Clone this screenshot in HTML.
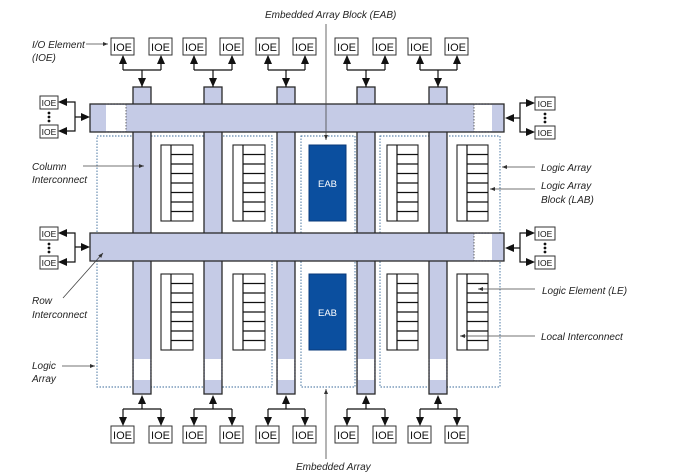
<!DOCTYPE html>
<html><head><meta charset="utf-8"><style>
html,body{margin:0;padding:0;background:#fff;}
svg{display:block}
.b{fill:#c5cbe6;stroke:#2a2a2a;stroke-width:1.3}
.io{fill:#fff;stroke:#333;stroke-width:1}
.it{font-family:"Liberation Sans",sans-serif;font-size:11px;fill:#111;text-anchor:middle}
.is{font-family:"Liberation Sans",sans-serif;font-size:8.5px;fill:#111;text-anchor:middle}
.lb{font-family:"Liberation Sans",sans-serif;font-size:10px;font-style:italic;fill:#222}
.ln{stroke:#111;stroke-width:1.2;fill:none}
.thin{stroke:#444;stroke-width:0.8;fill:none}
.dash{fill:none;stroke:#3a6a9a;stroke-width:0.9;stroke-dasharray:1.5,1.5}
.lab{fill:#fff;stroke:#222;stroke-width:1.1}
</style></head><body>
<svg width="687" height="476" viewBox="0 0 687 476" xmlns="http://www.w3.org/2000/svg">
<defs>
<marker id="a" markerWidth="8" markerHeight="8" refX="7" refY="4" orient="auto" markerUnits="userSpaceOnUse"><path d="M0,0L8,4L0,8z" fill="#111"/></marker>
<marker id="s" markerWidth="5" markerHeight="4" refX="5" refY="2" orient="auto" markerUnits="userSpaceOnUse"><path d="M0,0L5,2L0,4z" fill="#333"/></marker>
</defs>

<!-- dashed logic array boxes -->
<rect class="dash" x="97" y="136" width="175" height="251"/>
<rect class="dash" x="301" y="136" width="54" height="251"/>
<rect class="dash" x="380" y="136" width="120" height="251"/>

<!-- columns -->
<g>
<rect class="b" x="133" y="87" width="18" height="307"/>
<rect class="b" x="204" y="87" width="18" height="307"/>
<rect class="b" x="277" y="87" width="18" height="307"/>
<rect class="b" x="357" y="87" width="18" height="307"/>
<rect class="b" x="429" y="87" width="18" height="307"/>
</g>
<!-- white gaps at bottom of columns -->
<g fill="#fff">
<rect x="134" y="359" width="16" height="21"/><rect x="205" y="359" width="16" height="21"/><rect x="278" y="359" width="16" height="21"/><rect x="358" y="359" width="16" height="21"/><rect x="430" y="359" width="16" height="21"/>
</g>
<g class="thin" stroke-dasharray="1.5,1.5">
<path d="M133,359V380M151,359V380M204,359V380M222,359V380M277,359V380M295,359V380M357,359V380M375,359V380M429,359V380M447,359V380"/>
</g>

<!-- row bars -->
<rect class="b" x="90" y="104" width="414" height="28"/>
<rect class="b" x="90" y="233" width="414" height="28"/>
<g fill="#fff">
<rect x="106" y="105" width="20" height="26"/><rect x="474" y="105" width="18" height="26"/>
<rect x="474" y="234" width="18" height="26"/>
</g>
<g class="thin" stroke-dasharray="1.5,1.5">
<path d="M106,104H126M106,132H126M126,104V132M474,104H492M474,132H492M474,104V132M474,233H492M474,261H492M474,233V261"/>
</g>
<!-- column segments over row bars -->
<g fill="#c5cbe6"></g>

<!-- LABs -->
<g>
<rect class="lab" x="161" y="145" width="32" height="76"/><path class="ln" d="M171,145V221M171,154.5H193M171,164H193M171,173.5H193M171,183H193M171,192.5H193M171,202H193M171,211.5H193"/>
<rect class="lab" x="233" y="145" width="32" height="76"/><path class="ln" d="M243,145V221M243,154.5H265M243,164H265M243,173.5H265M243,183H265M243,192.5H265M243,202H265M243,211.5H265"/>
<rect class="lab" x="387" y="145" width="31" height="76"/><path class="ln" d="M397,145V221M397,154.5H418M397,164H418M397,173.5H418M397,183H418M397,192.5H418M397,202H418M397,211.5H418"/>
<rect class="lab" x="457" y="145" width="31" height="76"/><path class="ln" d="M467,145V221M467,154.5H488M467,164H488M467,173.5H488M467,183H488M467,192.5H488M467,202H488M467,211.5H488"/>
<rect class="lab" x="161" y="274" width="32" height="76"/><path class="ln" d="M171,274V350M171,283.5H193M171,293H193M171,302.5H193M171,312H193M171,321.5H193M171,331H193M171,340.5H193"/>
<rect class="lab" x="233" y="274" width="32" height="76"/><path class="ln" d="M243,274V350M243,283.5H265M243,293H265M243,302.5H265M243,312H265M243,321.5H265M243,331H265M243,340.5H265"/>
<rect class="lab" x="387" y="274" width="31" height="76"/><path class="ln" d="M397,274V350M397,283.5H418M397,293H418M397,302.5H418M397,312H418M397,321.5H418M397,331H418M397,340.5H418"/>
<rect class="lab" x="457" y="274" width="31" height="76"/><path class="ln" d="M467,274V350M467,283.5H488M467,293H488M467,302.5H488M467,312H488M467,321.5H488M467,331H488M467,340.5H488"/>
</g>

<!-- EABs -->
<rect x="309" y="145" width="37" height="76" fill="#0b4f9f" stroke="#0a3a78"/>
<rect x="309" y="274" width="37" height="76" fill="#0b4f9f" stroke="#0a3a78"/>
<text x="327.5" y="187" font-family="Liberation Sans,sans-serif" font-size="9.5" fill="#fff" text-anchor="middle">EAB</text>
<text x="327.5" y="316" font-family="Liberation Sans,sans-serif" font-size="9.5" fill="#fff" text-anchor="middle">EAB</text>

<!-- top IOEs -->
<g>
<rect class="io" x="111" y="38" width="23" height="17"/><text class="it" x="122.5" y="51">IOE</text>
<rect class="io" x="149" y="38" width="23" height="17"/><text class="it" x="160.5" y="51">IOE</text>
<rect class="io" x="183" y="38" width="23" height="17"/><text class="it" x="194.5" y="51">IOE</text>
<rect class="io" x="220" y="38" width="23" height="17"/><text class="it" x="231.5" y="51">IOE</text>
<rect class="io" x="256" y="38" width="23" height="17"/><text class="it" x="267.5" y="51">IOE</text>
<rect class="io" x="293" y="38" width="23" height="17"/><text class="it" x="304.5" y="51">IOE</text>
<rect class="io" x="335" y="38" width="23" height="17"/><text class="it" x="346.5" y="51">IOE</text>
<rect class="io" x="373" y="38" width="23" height="17"/><text class="it" x="384.5" y="51">IOE</text>
<rect class="io" x="408" y="38" width="23" height="17"/><text class="it" x="419.5" y="51">IOE</text>
<rect class="io" x="445" y="38" width="23" height="17"/><text class="it" x="456.5" y="51">IOE</text>
</g>
<g class="ln">
<path d="M123,70V56M161,70V56M123,70H161M142,70V87" />
<path d="M194,70V56M232,70V56M194,70H232M213,70V87" />
<path d="M268,70V56M305,70V56M268,70H305M286,70V87" />
<path d="M347,70V56M385,70V56M347,70H385M366,70V87" />
<path d="M420,70V56M457,70V56M420,70H457M438,70V87" />
</g>
<g fill="#111">
<path d="M123,55l-4,9h8zM161,55l-4,9h8zM194,55l-4,9h8zM232,55l-4,9h8zM268,55l-4,9h8zM305,55l-4,9h8zM347,55l-4,9h8zM385,55l-4,9h8zM420,55l-4,9h8zM457,55l-4,9h8z"/>
<path d="M142,87l-4,-9h8zM213,87l-4,-9h8zM286,87l-4,-9h8zM366,87l-4,-9h8zM438,87l-4,-9h8z"/>
</g>

<!-- bottom IOEs -->
<g>
<rect class="io" x="111" y="426" width="23" height="17"/><text class="it" x="122.5" y="439">IOE</text>
<rect class="io" x="149" y="426" width="23" height="17"/><text class="it" x="160.5" y="439">IOE</text>
<rect class="io" x="183" y="426" width="23" height="17"/><text class="it" x="194.5" y="439">IOE</text>
<rect class="io" x="220" y="426" width="23" height="17"/><text class="it" x="231.5" y="439">IOE</text>
<rect class="io" x="256" y="426" width="23" height="17"/><text class="it" x="267.5" y="439">IOE</text>
<rect class="io" x="293" y="426" width="23" height="17"/><text class="it" x="304.5" y="439">IOE</text>
<rect class="io" x="335" y="426" width="23" height="17"/><text class="it" x="346.5" y="439">IOE</text>
<rect class="io" x="373" y="426" width="23" height="17"/><text class="it" x="384.5" y="439">IOE</text>
<rect class="io" x="408" y="426" width="23" height="17"/><text class="it" x="419.5" y="439">IOE</text>
<rect class="io" x="445" y="426" width="23" height="17"/><text class="it" x="456.5" y="439">IOE</text>
</g>
<g class="ln">
<path d="M123,409V420M161,409V420M123,409H161M142,409V402" />
<path d="M194,409V420M232,409V420M194,409H232M213,409V402" />
<path d="M268,409V420M305,409V420M268,409H305M286,409V402" />
<path d="M347,409V420M385,409V420M347,409H385M366,409V402" />
<path d="M420,409V420M457,409V420M420,409H457M438,409V402" />
</g>
<g fill="#111">
<path d="M123,426l-4,-9h8zM161,426l-4,-9h8zM194,426l-4,-9h8zM232,426l-4,-9h8zM268,426l-4,-9h8zM305,426l-4,-9h8zM347,426l-4,-9h8zM385,426l-4,-9h8zM420,426l-4,-9h8zM457,426l-4,-9h8z"/>
<path d="M142,395l-4,9h8zM213,395l-4,9h8zM286,395l-4,9h8zM366,395l-4,9h8zM438,395l-4,9h8z"/>
</g>

<!-- left side IOEs -->
<g>
<rect class="io" x="40" y="96" width="18" height="13"/><text class="is" x="49" y="106">IOE</text>
<rect class="io" x="40" y="125" width="18" height="13"/><text class="is" x="49" y="135">IOE</text>
<rect class="io" x="40" y="227" width="18" height="13"/><text class="is" x="49" y="237">IOE</text>
<rect class="io" x="40" y="256" width="18" height="13"/><text class="is" x="49" y="266">IOE</text>
</g>
<g class="ln"><path d="M66,102H75V131H66M75,117H82M66,233H75V262H66M75,247H82"/></g>
<g fill="#111">
<path d="M58,102l9,-4v8zM58,131l9,-4v8zM90,117l-9,-4v8zM58,233l9,-4v8zM58,262l9,-4v8zM90,247l-9,-4v8z"/>
<circle cx="49" cy="113" r="1.4"/><circle cx="49" cy="117" r="1.4"/><circle cx="49" cy="121" r="1.4"/>
<circle cx="49" cy="244" r="1.4"/><circle cx="49" cy="248" r="1.4"/><circle cx="49" cy="252" r="1.4"/>
</g>

<!-- right side IOEs -->
<g>
<rect class="io" x="535" y="97" width="20" height="13"/><text class="is" x="545" y="107">IOE</text>
<rect class="io" x="535" y="126" width="20" height="13"/><text class="is" x="545" y="136">IOE</text>
<rect class="io" x="535" y="227" width="20" height="13"/><text class="is" x="545" y="237">IOE</text>
<rect class="io" x="535" y="256" width="20" height="13"/><text class="is" x="545" y="266">IOE</text>
</g>
<g class="ln"><path d="M527,103H520V132H527M520,118H513M527,233H520V262H527M520,248H513"/></g>
<g fill="#111">
<path d="M535,103l-9,-4v8zM535,132l-9,-4v8zM505,118l9,-4v8zM535,233l-9,-4v8zM535,262l-9,-4v8zM505,248l9,-4v8z"/>
<circle cx="545" cy="114" r="1.4"/><circle cx="545" cy="118" r="1.4"/><circle cx="545" cy="122" r="1.4"/>
<circle cx="545" cy="244" r="1.4"/><circle cx="545" cy="248" r="1.4"/><circle cx="545" cy="252" r="1.4"/>
</g>

<!-- labels -->
<text class="lb" x="265" y="18">Embedded Array Block (EAB)</text>
<path class="thin" d="M326,24V140" marker-end="url(#s)"/>
<text class="lb" x="32" y="48">I/O Element</text>
<text class="lb" x="32" y="61">(IOE)</text>
<path class="thin" d="M86,44H108" marker-end="url(#s)"/>
<text class="lb" x="32" y="170">Column</text>
<text class="lb" x="32" y="183">Interconnect</text>
<path class="thin" d="M83,166H144" marker-end="url(#s)"/>
<text class="lb" x="32" y="304">Row</text>
<text class="lb" x="32" y="318">Interconnect</text>
<path class="thin" d="M63,298L103,253" marker-end="url(#s)"/>
<text class="lb" x="32" y="369">Logic</text>
<text class="lb" x="32" y="382">Array</text>
<path class="thin" d="M62,366H95" marker-end="url(#s)"/>
<text class="lb" x="541" y="171">Logic Array</text>
<path class="thin" d="M535,167H502" marker-end="url(#s)"/>
<text class="lb" x="541" y="189">Logic Array</text>
<text class="lb" x="541" y="203">Block (LAB)</text>
<path class="thin" d="M535,189H490" marker-end="url(#s)"/>
<text class="lb" x="542" y="294">Logic Element (LE)</text>
<path class="thin" d="M535,289H478" marker-end="url(#s)"/>
<text class="lb" x="541" y="340">Local Interconnect</text>
<path class="thin" d="M535,336H460" marker-end="url(#s)"/>
<text class="lb" x="296" y="470">Embedded Array</text>
<path class="thin" d="M326,459V389" marker-end="url(#s)"/>
</svg>
</body></html>
